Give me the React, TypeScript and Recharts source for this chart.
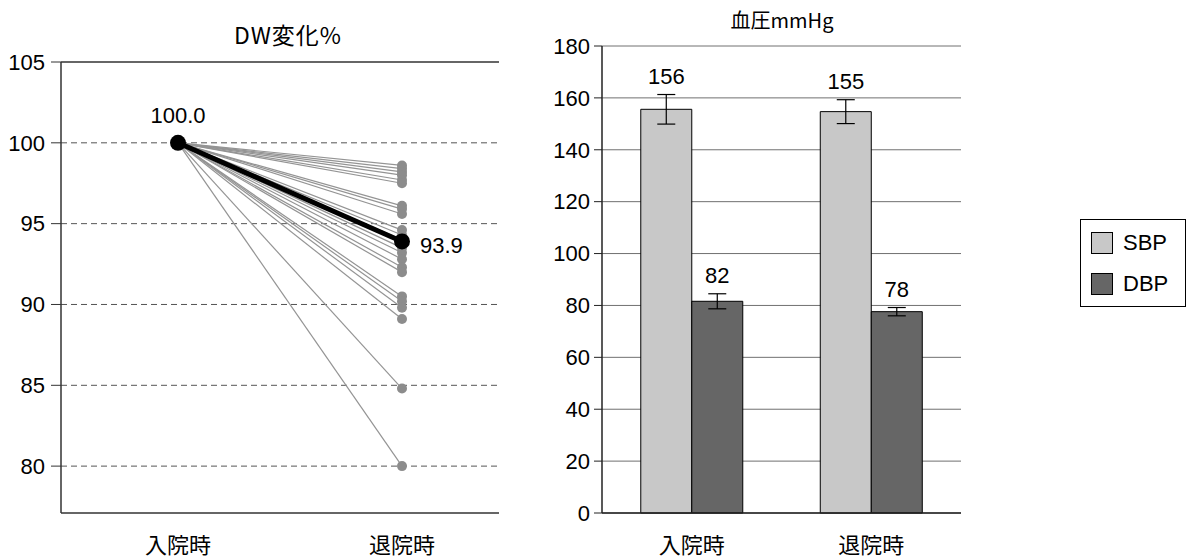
import React from 'react';
import { LineChart, Line, XAxis, YAxis, ReferenceLine, LabelList, BarChart, Bar, ErrorBar, CartesianGrid, Legend } from 'recharts';

// shared categories
const timepoints = ['入院時', '退院時'];

// left: DW change %, each patient starts at 100
const dwStart = 100;
const dwEnd = [98.6, 98.4, 98.2, 98.0, 97.7, 97.5, 96.1, 95.9, 95.6, 94.6, 94.3, 94.0, 93.5, 93.2, 92.8, 92.3, 92.0, 90.5, 90.2, 89.8, 89.1, 84.8, 80.0];
const dwMean = [100.0, 93.9];
const dwTicks = [80, 85, 90, 95, 100, 105];
const dwGrid = [80, 85, 90, 95, 100];

// right: blood pressure
const bpNames = ['SBP', 'DBP'];
const sbp = [155.6, 154.7];
const sbpErr = [5.7, 4.6];
const dbp = [81.6, 77.6];
const dbpErr = [2.9, 1.6];
const bpTicks = [0, 20, 40, 60, 80, 100, 120, 140, 160, 180];
const bpColors = ['#c8c8c8', '#666666'];

const NUM_FONT = '"Liberation Sans Narrow", "Liberation Sans", Arial, sans-serif';
const CJK_FONT = '"Noto Sans CJK JP", "Noto Sans", sans-serif';

const lineData = timepoints.map((name, i) => {
  const row: Record<string, any> = { name, mean: dwMean[i] };
  dwEnd.forEach((v, k) => {
    row['p' + k] = i === 0 ? dwStart : v;
  });
  return row;
});

const barData = timepoints.map((name, i) => ({
  name,
  SBP: sbp[i],
  sbpErr: sbpErr[i],
  DBP: dbp[i],
  dbpErr: dbpErr[i],
}));

const CatTick = (props: any) => {
  const { x, y, payload } = props;
  return (
    <text x={x} y={y + 22} textAnchor="middle" dominantBaseline="central" fontSize={22} fontFamily={CJK_FONT} fill="#000">
      {payload.value}
    </text>
  );
};

const MeanLabel = (props: any) => {
  const { x, y, value, index } = props;
  if (index === 0) {
    return (
      <text x={x} y={y - 27} textAnchor="middle" dominantBaseline="central" fontSize={22} fontFamily={NUM_FONT} fill="#000">
        {Number(value).toFixed(1)}
      </text>
    );
  }
  return (
    <text x={x + 18} y={y + 4} textAnchor="start" dominantBaseline="central" fontSize={22} fontFamily={NUM_FONT} fill="#000">
      {Number(value).toFixed(1)}
    </text>
  );
};

const makeBarLabel = (errs: number[]) => (props: any) => {
  const { x, y, width, height, value, index } = props;
  const errPx = (errs[index] / value) * height;
  return (
    <text x={x + width / 2} y={y - errPx - 18} textAnchor="middle" dominantBaseline="central" fontSize={22} fontFamily={NUM_FONT} fill="#000">
      {Math.round(value)}
    </text>
  );
};

const BpLegend = () => (
  <div style={{ width: 106, height: 88, boxSizing: 'border-box', border: '1px solid #000', background: '#fff', padding: '12px 0 0 10px' }}>
    {bpNames.map((n, i) => (
      <div key={n} style={{ display: 'flex', alignItems: 'center', height: 22, marginBottom: 19 }}>
        <div style={{ width: 22, height: 22, boxSizing: 'border-box', border: '1px solid #000', background: bpColors[i] }} />
        <span style={{ marginLeft: 10, fontSize: 22, fontFamily: '"Liberation Sans", Arial, sans-serif', color: '#000' }}>{n}</span>
      </div>
    ))}
  </div>
);

export default function App() {
  return (
    <div style={{ position: 'absolute', left: 0, top: 0, width: 1186, height: 558, background: '#fff', overflow: 'hidden' }}>
      <div style={{ position: 'absolute', left: 0, top: 19, width: 576, textAlign: 'center', fontSize: 23, letterSpacing: 1, fontFamily: CJK_FONT, lineHeight: '30px' }}>
        DW変化%
      </div>
      <div style={{ position: 'absolute', left: 0, top: 0 }}>
        <LineChart width={510} height={558} data={lineData} margin={{ top: 62, right: 11, bottom: 0, left: 0 }}>
          {dwGrid.map((v) => (
            <ReferenceLine key={v} y={v} stroke="#555" strokeDasharray="6 4" />
          ))}
          <ReferenceLine y={105} stroke="#333" strokeWidth={1.5} />
          <XAxis
            dataKey="name"
            scale="point"
            padding={{ left: 117, right: 97 }}
            height={45}
            tickLine={false}
            axisLine={{ stroke: '#333', strokeWidth: 1.5 }}
            tick={<CatTick />}
            interval={0}
          />
          <YAxis
            domain={[77.1, 105]}
            ticks={dwTicks}
            width={61}
            tickSize={10}
            tickMargin={6}
            allowDataOverflow
            axisLine={{ stroke: '#333', strokeWidth: 1.5 }}
            tickLine={{ stroke: '#333' }}
            tick={{ fontSize: 22, fill: '#000', fontFamily: NUM_FONT }}
          />
          <YAxis
            yAxisId="frame"
            orientation="right"
            domain={[77.1, 105]}
            width={0}
            tick={false}
            tickLine={false}
            axisLine={{ stroke: '#333', strokeWidth: 1.5 }}
          />
          {dwEnd.map((_, k) => (
            <Line
              key={k}
              dataKey={'p' + k}
              stroke="#949494"
              strokeWidth={1.2}
              dot={{ r: 5, fill: '#8c8c8c', stroke: 'none' }}
              isAnimationActive={false}
            />
          ))}
          <Line dataKey="mean" stroke="#000" strokeWidth={5} dot={{ r: 8, fill: '#000', stroke: 'none' }} isAnimationActive={false}>
            <LabelList dataKey="mean" content={<MeanLabel />} />
          </Line>
        </LineChart>
      </div>

      <div style={{ position: 'absolute', left: 540, top: 6, width: 484, textAlign: 'center', fontSize: 20, fontFamily: CJK_FONT, lineHeight: '28px' }}>
        血圧mmHg
      </div>
      <div style={{ position: 'absolute', left: 540, top: 0 }}>
        <BarChart
          width={646}
          height={558}
          data={barData}
          margin={{ top: 46, right: 225, bottom: 0, left: 0 }}
          barGap={0}
          barCategoryGap="21.6%"
        >
          <CartesianGrid vertical={false} stroke="#707070" />
          <XAxis dataKey="name" height={45} tickLine={false} axisLine={{ stroke: '#222', strokeWidth: 1.5 }} tick={<CatTick />} interval={0} />
          <YAxis
            domain={[0, 180]}
            ticks={bpTicks}
            width={62}
            tickSize={8}
            tickMargin={4}
            axisLine={{ stroke: '#222', strokeWidth: 1.5 }}
            tickLine={{ stroke: '#222' }}
            tick={{ fontSize: 22, fill: '#000', fontFamily: NUM_FONT }}
          />
          <YAxis
            yAxisId="frame"
            orientation="right"
            domain={[0, 180]}
            width={0}
            tick={false}
            tickLine={false}
            axisLine={{ stroke: '#333', strokeWidth: 1.2 }}
          />
          <Legend
            layout="vertical"
            align="center"
            verticalAlign="middle"
            content={<BpLegend />}
            wrapperStyle={{ left: 540, top: 219, width: 106 }}
          />
          <Bar dataKey="SBP" fill={bpColors[0]} stroke="#000" strokeWidth={1} isAnimationActive={false}>
            <ErrorBar dataKey="sbpErr" direction="y" width={9} stroke="#000" strokeWidth={1.2} />
            <LabelList dataKey="SBP" content={makeBarLabel(sbpErr)} />
          </Bar>
          <Bar dataKey="DBP" fill={bpColors[1]} stroke="#000" strokeWidth={1} isAnimationActive={false}>
            <ErrorBar dataKey="dbpErr" direction="y" width={9} stroke="#000" strokeWidth={1.2} />
            <LabelList dataKey="DBP" content={makeBarLabel(dbpErr)} />
          </Bar>
        </BarChart>
      </div>
    </div>
  );
}
